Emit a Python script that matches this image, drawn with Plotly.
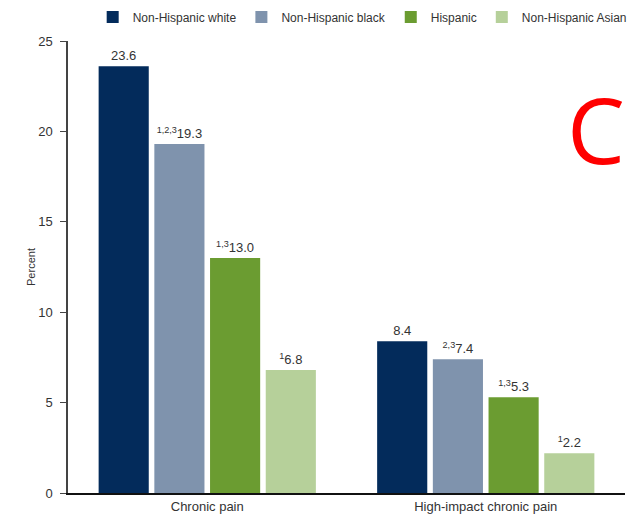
import plotly.graph_objects as go

categories = ["Chronic pain", "High-impact chronic pain"]
groups = ["Non-Hispanic white", "Non-Hispanic black", "Hispanic", "Non-Hispanic Asian"]
values = {
    "Non-Hispanic white": [23.6, 8.4],
    "Non-Hispanic black": [19.3, 7.4],
    "Hispanic": [13.0, 5.3],
    "Non-Hispanic Asian": [6.8, 2.2],
}
footnotes = {
    "Non-Hispanic white": ["", ""],
    "Non-Hispanic black": ["1,2,3", "2,3"],
    "Hispanic": ["1,3", "1,3"],
    "Non-Hispanic Asian": ["1", "1"],
}
colors = ["#032b5b", "#7f93ad", "#6b9c31", "#b6d09a"]

FONT = "Liberation Sans Narrow, Arial Narrow, Liberation Sans, Arial, sans-serif"

fig = go.Figure()
for g, c in zip(groups, colors):
    labels = [
        (f"<sup>{n}</sup>" if n else "") + f"{v:.1f}"
        for v, n in zip(values[g], footnotes[g])
    ]
    fig.add_trace(go.Bar(
        name=g, x=categories, y=values[g], marker=dict(color=c, line=dict(width=0)),
        text=labels, textposition="outside", constraintext="none", cliponaxis=False,
        textfont=dict(family=FONT, size=13, color="#333333"),
        hoverinfo="skip",
    ))

fig.update_layout(
    width=636, height=524,
    margin=dict(l=68, r=11, t=41, b=31, autoexpand=False),
    paper_bgcolor="white", plot_bgcolor="white",
    barmode="group", bargap=0.2, bargroupgap=0.1,
    font=dict(family=FONT, color="#333333"),
    legend=dict(
        orientation="h", x=1.012, xanchor="right", y=1.053, yanchor="middle",
        font=dict(family=FONT, size=12, color="#333333"),
        itemwidth=30, traceorder="normal",
    ),
    showlegend=True,
)
fig.update_yaxes(
    range=[0, 25], tickvals=[0, 5, 10, 15, 20, 25], ticks="outside", ticklen=6,
    tickcolor="#444444", showline=True, linecolor="#444444", linewidth=1.5,
    showgrid=False, zeroline=False, ticklabelstandoff=5,
    tickfont=dict(family=FONT, size=13, color="#333333"),
    title=dict(text="Percent", font=dict(family=FONT, size=11, color="#333333"), standoff=0),
)
fig.update_xaxes(
    showline=True, linecolor="#111111", linewidth=2, ticks="",
    tickfont=dict(family=FONT, size=13, color="#333333"),
)
fig.add_annotation(
    text="C", xref="paper", yref="paper", x=0.948, y=0.807,
    xanchor="center", yanchor="middle",
    showarrow=False, font=dict(family="Open Sans, sans-serif", size=92, color="#ff0000"),
)

fig.write_html("out.html")
